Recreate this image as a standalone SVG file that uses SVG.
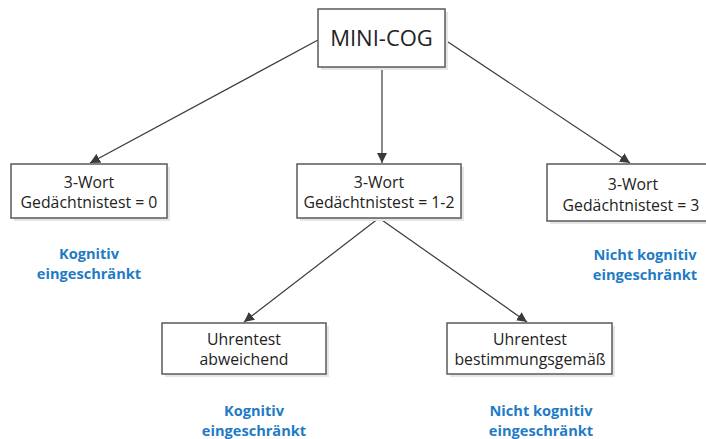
<svg xmlns="http://www.w3.org/2000/svg" width="706" height="439" viewBox="0 0 706 439">
<style>
.box{fill:#fff;stroke:#5a5a5a;stroke-width:1.5}
.sh{fill:#e6e6e6}
.t{font-family:"Open Sans","Liberation Sans",sans-serif;font-size:15.8px;fill:#222;text-anchor:middle}
.big{font-size:22px}
.b{font-family:"Open Sans","Liberation Sans",sans-serif;font-size:14.6px;font-weight:bold;fill:#1f7bc6;text-anchor:middle}
.c{stroke:#3a3a3a;stroke-width:1.2;fill:none;marker-end:url(#ah)}
</style>
<defs>
<marker id="ah" viewBox="0 0 10 10" refX="10" refY="5" markerWidth="10" markerHeight="10" markerUnits="userSpaceOnUse" orient="auto">
<path d="M0,0 L10,5 L0,10 z" fill="#3a3a3a"/>
</marker>
</defs>
<rect width="706" height="439" fill="#fff"/>
<g id="connectors">
<line class="c" x1="318" y1="40" x2="90" y2="163"/>
<line class="c" x1="382" y1="67" x2="382" y2="163"/>
<line class="c" x1="445" y1="40" x2="630" y2="163"/>
<line class="c" x1="379" y1="218" x2="244" y2="322"/>
<line class="c" x1="379" y1="218" x2="527" y2="322"/>
</g>
<g id="minicog">
<rect class="sh" x="321" y="12" width="127" height="58"/>
<rect class="box" x="318" y="9" width="127" height="58"/>
<text class="t big" x="381.5" y="46">MINI-COG</text>
</g>
<g id="wort0">
<rect class="sh" x="14" y="167" width="156" height="54"/>
<rect class="box" x="11" y="164" width="156" height="54"/>
<text class="t" x="89" y="188">3-Wort</text>
<text class="t" x="89" y="208">Gedächtnistest = 0</text>
</g>
<g id="wort12">
<rect class="sh" x="300" y="167" width="164" height="54"/>
<rect class="box" x="297" y="164" width="164" height="54"/>
<text class="t" x="379" y="188">3-Wort</text>
<text class="t" x="379" y="208">Gedächtnistest = 1-2</text>
</g>
<g id="wort3">
<rect class="sh" x="550" y="167" width="165" height="57"/>
<rect class="box" x="547" y="164" width="165" height="57"/>
<text class="t" x="633" y="190">3-Wort</text>
<text class="t" x="631" y="211">Gedächtnistest = 3</text>
</g>
<g id="uhr-abw">
<rect class="sh" x="165" y="326" width="164" height="51"/>
<rect class="box" x="162" y="323" width="164" height="51"/>
<text class="t" x="244" y="345">Uhrentest</text>
<text class="t" x="244" y="365">abweichend</text>
</g>
<g id="uhr-best">
<rect class="sh" x="450" y="326" width="165" height="51"/>
<rect class="box" x="447" y="323" width="165" height="51"/>
<text class="t" x="530" y="345">Uhrentest</text>
<text class="t" x="530" y="365">bestimmungsgemäß</text>
</g>
<g id="labels">
<text class="b" x="89" y="259">Kognitiv</text>
<text class="b" x="89" y="279">eingeschränkt</text>
<text class="b" x="645" y="260">Nicht kognitiv</text>
<text class="b" x="645" y="280">eingeschränkt</text>
<text class="b" x="254" y="416">Kognitiv</text>
<text class="b" x="254" y="436">eingeschränkt</text>
<text class="b" x="541" y="416">Nicht kognitiv</text>
<text class="b" x="541" y="436">eingeschränkt</text>
</g>
</svg>
